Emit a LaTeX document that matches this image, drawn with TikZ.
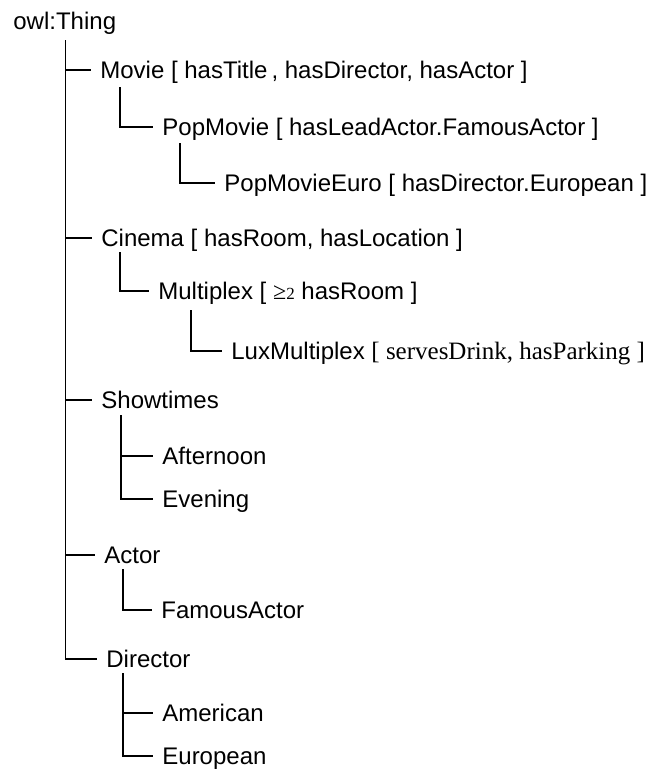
\documentclass[tikz,border=0pt]{standalone}
\usepackage{fontspec}
\setmainfont{Liberation Sans}
\newfontfamily\timesfont{Liberation Serif}

\begin{document}
\begin{tikzpicture}[
    x=0.5pt, y=-0.5pt,
    every node/.style={anchor=west, inner xsep=4.5pt, inner ysep=0pt,
        text height=8.6pt, text depth=0pt, font=\fontsize{12}{14}\selectfont},
    branch/.style={draw, line width=0.7pt},
]
\useasboundingbox (0,0) rectangle (651,769);

% classes
\node (thing)     at (4,20.5)  {owl:Thing};
\node (movie)     at (91,70)   {Movie [ hasTitle\,, hasDirector, hasActor ]};
\node (popmovie)  at (153,127) {PopMovie [ hasLeadActor.FamousActor ]};
\node (popeuro)   at (215,183) {PopMovieEuro [ hasDirector.European ]};
\node (cinema)    at (92,238)  {Cinema [ hasRoom, hasLocation ]};
\node (multiplex) at (149,291) {Multiplex [ {\timesfont ≥\fontsize{8.5}{9}\selectfont 2} hasRoom ]};
\node (lux)       at (222,351) {LuxMultiplex {\timesfont\fontsize{12.5}{14}\selectfont [ servesDrink, hasParking ]}};
\node (showtimes) at (92,400)  {Showtimes};
\node (afternoon) at (153,456) {Afternoon};
\node (evening)   at (153,499) {Evening};
\node (actor)     at (95,555)  {Actor};
\node (famous)    at (152,610) {FamousActor};
\node (director)  at (97,659)  {Director};
\node (american)  at (153,713) {American};
\node (european)  at (153,756) {European};

% subclass links
\foreach \c in {movie,cinema,showtimes,actor,director}
    \draw[branch] ([xshift=30.75pt,yshift=-5.4pt]thing.south west) |- (\c.west);
\draw[branch] ([xshift=14.5pt,yshift=-4.2pt]movie.south west) |- (popmovie.west);
\draw[branch] ([xshift=13.5pt,yshift=-3.7pt]popmovie.south west) |- (popeuro.west);
\draw[branch] ([xshift=14pt,yshift=-2.7pt]cinema.south west) |- (multiplex.west);
\draw[branch] ([xshift=21pt,yshift=-5.2pt]multiplex.south west) |- (lux.west);
\foreach \c in {afternoon,evening}
    \draw[branch] ([xshift=14.5pt,yshift=-3.2pt]showtimes.south west) |- (\c.west);
\draw[branch] ([xshift=14pt,yshift=-2.7pt]actor.south west) |- (famous.west);
\foreach \c in {american,european}
    \draw[branch] ([xshift=13pt,yshift=-2.7pt]director.south west) |- (\c.west);

\end{tikzpicture}
\end{document}
